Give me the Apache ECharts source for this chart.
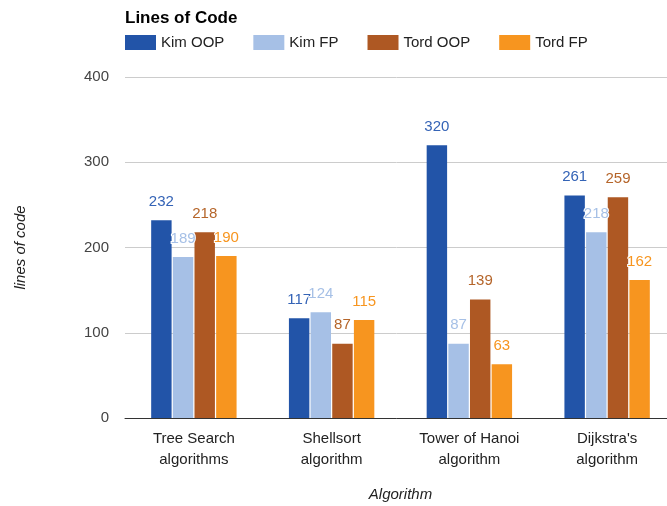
<!DOCTYPE html>
<html><head><meta charset="utf-8">
<script src="https://cdn.jsdelivr.net/npm/echarts@6/dist/echarts.min.js"></script>
<style>html,body{margin:0;padding:0;background:#fff}#c{width:667px;height:506px}</style>
</head><body><div id="c"></div>
<script>
const categories = ["Tree Search\nalgorithms", "Shellsort\nalgorithm", "Tower of Hanoi\nalgorithm", "Dijkstra's\nalgorithm"];
const seriesNames = ["Kim OOP", "Kim FP", "Tord OOP", "Tord FP"];
const kimOOP = [232, 117, 320, 261];
const kimFP = [189, 124, 87, 218];
const tordOOP = [218, 87, 139, 259];
const tordFP = [190, 115, 63, 162];
const yTicks = [0, 100, 200, 300, 400];
const colors = ["#2254a8", "#a6c0e6", "#ae5823", "#f7951f"];
const labelColors = ["#3463b6", "#a6c0e6", "#b5652a", "#f7951f"];
const seriesData = [kimOOP, kimFP, tordOOP, tordFP];
const FONT = 'Liberation Sans, Arial, sans-serif';

const chart = echarts.init(document.getElementById('c'), null, {renderer: 'canvas'});
chart.setOption({
  animation: false,
  textStyle: {fontFamily: FONT},
  title: {text: 'Lines of Code', left: 120, top: 5,
    textStyle: {fontSize: 17, fontWeight: 'bold', color: '#000', fontFamily: FONT}},
  legend: {left: 120, top: 30, itemWidth: 31, itemHeight: 15, itemGap: 29, icon: 'rect',
    textStyle: {fontSize: 15, color: '#222'}, data: seriesNames},
  grid: {left: 125, width: 551, top: 77, bottom: 88, outerBoundsMode: 'none', containLabel: false},
  xAxis: {type: 'category', data: categories,
    name: 'Algorithm', nameLocation: 'middle', nameGap: 69,
    nameTextStyle: {fontStyle: 'italic', fontSize: 15, color: '#222'},
    axisTick: {show: false},
    axisLine: {lineStyle: {color: '#333', width: 1}},
    axisLabel: {fontSize: 15, color: '#222', lineHeight: 21, margin: 10}},
  yAxis: {type: 'value', min: yTicks[0], max: yTicks[yTicks.length - 1], interval: 100,
    name: 'lines of code', nameLocation: 'middle', nameGap: 97,
    nameTextStyle: {fontStyle: 'italic', fontSize: 15, color: '#222'},
    axisLabel: {fontSize: 15, color: '#444', margin: 16},
    splitLine: {lineStyle: {color: '#ccc'}},
    axisLine: {show: false}, axisTick: {show: false}},
  series: seriesData.map((d, i) => ({
    name: seriesNames[i], type: 'bar', data: d,
    barGap: '6%', barCategoryGap: '38%',
    itemStyle: {color: colors[i]},
    label: {show: true, position: 'top', distance: 11, fontSize: 15, color: labelColors[i],
      textBorderColor: '#fff', textBorderWidth: 2}
  }))
});
</script></body></html>
